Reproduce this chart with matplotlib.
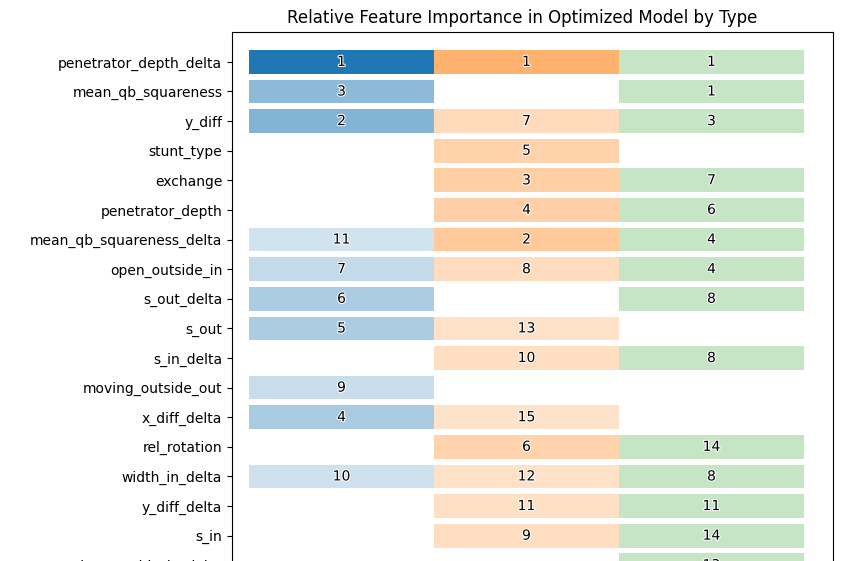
import numpy as np
import matplotlib.pyplot as plt
import matplotlib.patheffects as pe

features = ['penetrator_depth_delta', 'mean_qb_squareness', 'y_diff', 'stunt_type', 'exchange',
            'penetrator_depth', 'mean_qb_squareness_delta', 'open_outside_in', 's_out_delta', 's_out',
            's_in_delta', 'moving_outside_out', 'x_diff_delta', 'rel_rotation', 'width_in_delta',
            'y_diff_delta', 's_in', 'moving_outside_in_delta']
# rank per model type (None = not used)
rank_blue = [1, 3, 2, None, None, None, 11, 7, 6, 5, None, 9, 4, None, 10, None, None, None]
rank_orange = [1, None, 7, 5, 3, 4, 2, 8, None, 13, 10, None, 15, 6, 12, 11, 9, None]
rank_green = [1, 1, 3, None, 7, 6, 4, 4, 8, None, 8, None, None, 14, 8, 11, 14, 13]
alpha_blue = {1: 1.0, 2: 0.55, 3: 0.5, 4: 0.38, 5: 0.37, 6: 0.37, 7: 0.27, 9: 0.24, 10: 0.22, 11: 0.2}
alpha_orange = {1: 0.6, 2: 0.42, 3: 0.38, 4: 0.36, 5: 0.35, 6: 0.34, 7: 0.28, 8: 0.27,
                9: 0.26, 10: 0.25, 11: 0.24, 12: 0.23, 13: 0.23, 15: 0.22}

fig = plt.figure(figsize=(8.42, 5.61), dpi=100)
ax = fig.add_axes([232/842, -0.166, 601/842, 1.109])

cols = [(rank_blue, '#1f77b4', lambda r: alpha_blue[r]),
        (rank_orange, '#ff7f0e', lambda r: alpha_orange[r]),
        (rank_green, '#2ca02c', lambda r: 0.27)]
y = np.arange(len(features))
for j, (ranks, color, af) in enumerate(cols):
    for i, r in enumerate(ranks):
        if r is None:
            continue
        ax.barh(i, 1, left=j, height=0.8, color=color, alpha=af(r))
        ax.text(j + 0.5, i, str(r), ha='center', va='center', fontsize=10,
                path_effects=[pe.withStroke(linewidth=1.5, foreground='white')])

ax.set_yticks(y)
ax.set_yticklabels(features)
ax.set_xticks([])
ax.set_xlim(-0.092, 3.157)
ax.set_ylim(20.0, -1.01)
fig.text(522/842, 1 - 18/561, 'Relative Feature Importance in Optimized Model by Type',
         ha='center', va='center', fontsize=12)
fig.savefig('out.png')
